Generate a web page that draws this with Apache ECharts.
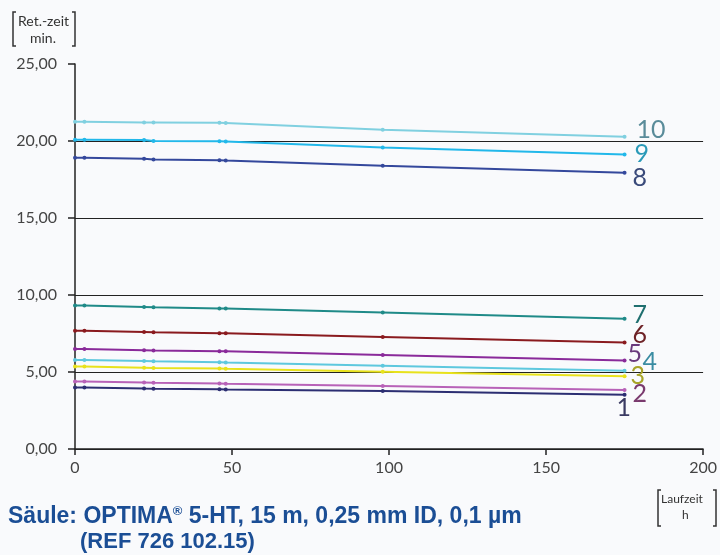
<!DOCTYPE html>
<html>
<head>
<meta charset="utf-8">
<script src="https://cdn.jsdelivr.net/npm/echarts@6/dist/echarts.min.js"></script>
<style>
html,body{margin:0;padding:0;background:#f9fafc;}
#chart{width:720px;height:555px;}
</style>
</head>
<body>
<div id="chart"></div>
<script>
// Laufzeit (h)
var hours = [0, 3, 22, 25, 46, 48, 98, 175];
var s1  = [4.00, 4.00, 3.93, 3.92, 3.88, 3.87, 3.77, 3.53];
var s2  = [4.39, 4.39, 4.32, 4.30, 4.25, 4.24, 4.09, 3.83];
var s3  = [5.36, 5.36, 5.28, 5.26, 5.22, 5.21, 5.02, 4.72];
var s4  = [5.78, 5.78, 5.71, 5.69, 5.63, 5.62, 5.41, 5.08];
var s5  = [6.49, 6.49, 6.42, 6.40, 6.35, 6.34, 6.10, 5.75];
var s6  = [7.68, 7.68, 7.60, 7.58, 7.52, 7.51, 7.27, 6.92];
var s7  = [9.32, 9.32, 9.22, 9.20, 9.13, 9.13, 8.87, 8.46];
var s8  = [18.92, 18.92, 18.85, 18.80, 18.75, 18.73, 18.40, 17.94];
var s9  = [20.08, 20.08, 20.07, 20.00, 19.98, 19.97, 19.58, 19.13];
var s10 = [21.25, 21.25, 21.20, 21.20, 21.18, 21.17, 20.73, 20.28];
var seriesNames = ['1','2','3','4','5','6','7','8','9','10'];
var seriesValues = [s1, s2, s3, s4, s5, s6, s7, s8, s9, s10];
var yTicks = [0, 5, 10, 15, 20, 25];
var xTicks = [0, 50, 100, 150, 200];

var lineColors  = ['#2c2e72','#b862b8','#e8e21c','#5ec8de','#8a2a9a','#8a1a1e','#1f8a88','#34489c','#22b8ea','#80d0e0'];
var labelColors = ['#3a3a62','#7a3a6e','#a8a428','#3a8ca2','#6a3a7c','#6e2226','#1f6f6f','#3a4a7a','#2a9ab8','#5a8c9a'];
var labelOffsets = [[-14,13],[2,4],[0,0],[12,-9],[-3,-7],[2,-7],[2,-4],[2,5],[4,0],[6,-7]];

var chart = echarts.init(document.getElementById('chart'));
var series = seriesNames.map(function(n, i){
  return {
    name: n,
    type: 'line',
    data: hours.map(function(h, j){ return [h, seriesValues[i][j]]; }),
    symbol: 'circle',
    symbolSize: 4,
    showSymbol: true,
    lineStyle: {color: lineColors[i], width: 2},
    itemStyle: {color: lineColors[i]},
    endLabel: {
      show: true,
      formatter: n,
      color: labelColors[i],
      fontSize: 25,
      fontFamily: 'Lato',
      offset: labelOffsets[i],
      distance: 6
    },
    animation: false,
    z: 3
  };
});

chart.setOption({
  backgroundColor: '#f9fafc',
  animation: false,
  grid: {left: 75, right: 12, top: 64, bottom: 106},
  xAxis: {
    type: 'value', min: 0, max: 200, interval: 50,
    axisLine: {show: true, lineStyle: {color: '#222', width: 1.5}},
    axisTick: {show: true, length: 6, lineStyle: {color: '#222', width: 1.5}},
    axisLabel: {color: '#444', fontSize: 16, fontFamily: 'Lato', margin: 11,
      formatter: function(v){ return xTicks.indexOf(v) >= 0 ? String(v) : ''; }},
    splitLine: {show: false}
  },
  yAxis: {
    type: 'value', min: 0, max: 25, interval: 5,
    axisLine: {show: true, lineStyle: {color: '#222', width: 1.5}},
    axisTick: {show: true, length: 7, lineStyle: {color: '#222', width: 1.5}},
    axisLabel: {color: '#444', fontSize: 16, fontFamily: 'Lato', margin: 18,
      formatter: function(v){ return yTicks.indexOf(v) >= 0 ? v.toFixed(2).replace('.', ',') : ''; }},
    splitLine: {show: true, lineStyle: {color: ['#222','#222','#222','#222','#222','rgba(0,0,0,0)'], width: 1.2}}
  },
  series: series,
  graphic: [
    // Y unit label
    {type: 'text', left: 18, top: 14, style: {text: 'Ret.-zeit', fontSize: 14, fontFamily: 'Lato', fill: '#333'}},
    {type: 'text', left: 30, top: 31, style: {text: 'min.', fontSize: 14, fontFamily: 'Lato', fill: '#333'}},
    {type: 'polyline', shape: {points: [[16,12],[13,12],[13,46],[16,46]]}, style: {stroke: '#333', lineWidth: 1.5, fill: null}},
    {type: 'polyline', shape: {points: [[72,12],[75,12],[75,46],[72,46]]}, style: {stroke: '#333', lineWidth: 1.5, fill: null}},
    // X unit label
    {type: 'text', left: 661, top: 493, style: {text: 'Laufzeit', fontSize: 12, fontFamily: 'Lato', fill: '#333'}},
    {type: 'text', left: 682, top: 509, style: {text: 'h', fontSize: 12, fontFamily: 'Lato', fill: '#333'}},
    {type: 'polyline', shape: {points: [[661,490],[658,490],[658,526],[661,526]]}, style: {stroke: '#333', lineWidth: 1.5, fill: null}},
    {type: 'polyline', shape: {points: [[713,490],[716,490],[716,526],[713,526]]}, style: {stroke: '#333', lineWidth: 1.5, fill: null}},
    // Title
    {type: 'text', left: 8, top: 505, style: {
      text: '{a|Säule: OPTIMA}{s|®}{a| 5-HT, 15 m, 0,25 mm ID, 0,1 µm}',
      rich: {
        a: {fontSize: 23, fontWeight: 'bold', fontFamily: 'Liberation Sans', fill: '#1b4e95', color: '#1b4e95'},
        s: {fontSize: 13, fontWeight: 'bold', fontFamily: 'Liberation Sans', fill: '#1b4e95', color: '#1b4e95', verticalAlign: 'top', padding: [0,0,9,0]}
      }
    }},
    {type: 'text', left: 80, top: 531, style: {text: '(REF 726 102.15)', fontSize: 22, fontWeight: 'bold', fontFamily: 'Liberation Sans', fill: '#1b4e95'}}
  ]
});
</script>
</body>
</html>
